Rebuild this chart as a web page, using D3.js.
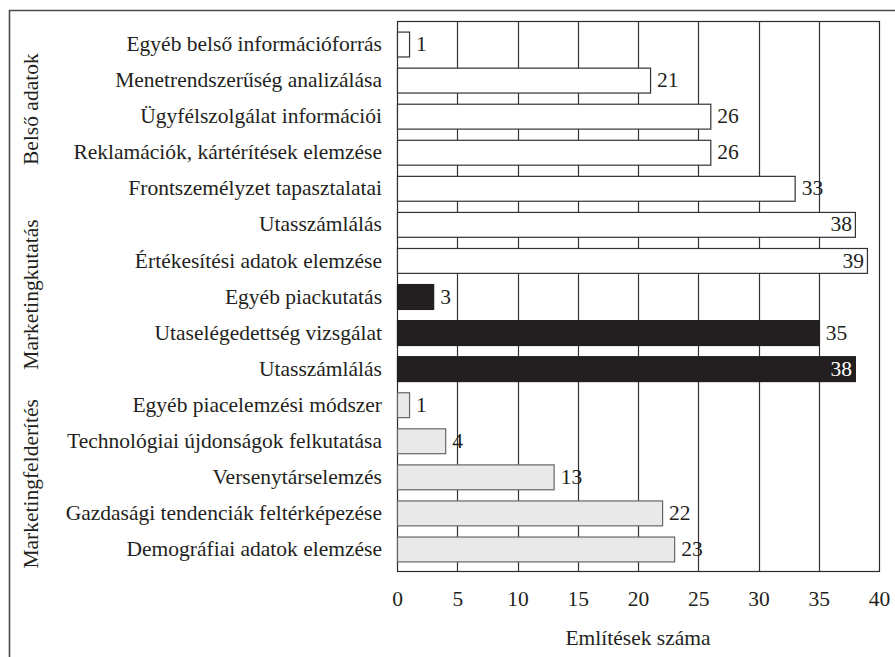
<!DOCTYPE html>
<html><head><meta charset="utf-8">
<script src="https://d3js.org/d3.v7.min.js"></script>
<style>
body{margin:0;background:#fff}
svg{display:block}
</style></head>
<body><svg id="c" width="895" height="657" font-family="'Liberation Serif', 'Times New Roman', Times, serif"></svg>
<script>
// ---- data ----
const categories = [
  "Egyéb belső információforrás",
  "Menetrendszerűség analizálása",
  "Ügyfélszolgálat információi",
  "Reklamációk, kártérítések elemzése",
  "Frontszemélyzet tapasztalatai",
  "Utasszámlálás",
  "Értékesítési adatok elemzése",
  "Egyéb piackutatás",
  "Utaselégedettség vizsgálat",
  "Utasszámlálás",
  "Egyéb piacelemzési módszer",
  "Technológiai újdonságok felkutatása",
  "Versenytárselemzés",
  "Gazdasági tendenciák feltérképezése",
  "Demográfiai adatok elemzése"
];
const values = [1, 21, 26, 26, 33, 38, 39, 3, 35, 38, 1, 4, 13, 22, 23];
const seriesOf = [0, 0, 0, 0, 0, 0, 0, 1, 1, 1, 2, 2, 2, 2, 2];
const groupNames = ["Belső adatok", "Marketingkutatás", "Marketingfelderítés"];
const groupFirst = [0, 5, 10];
const groupLast = [4, 9, 14];
const xTicks = [0, 5, 10, 15, 20, 25, 30, 35, 40];
const xTitle = "Említések száma";

// ---- styles ----
const fills = ["#ffffff", "#231f20", "#e9e9ea"];
const strokes = ["#333333", "#231f20", "#666666"];
const fontSize = 21.5;
const textColor = "#231f20";

const svg = d3.select("#c");
const plot = {left: 397, right: 879, top: 21, bottom: 571};

const x = d3.scaleLinear().domain([0, 40]).range([plot.left, plot.right]);
const idx = d3.range(categories.length);
const y = d3.scaleBand().domain(idx).range([26, 567]).paddingInner(0.31).paddingOuter(0.155);

// outer frame
svg.append("path")
  .attr("d", "M9.5,657 L9.5,10.5 L895,10.5")
  .attr("fill", "none").attr("stroke", "#4a4a4a").attr("stroke-width", 1.6);

// plot frame
svg.append("rect")
  .attr("x", plot.left + 0.5).attr("y", plot.top + 0.5)
  .attr("width", plot.right - plot.left).attr("height", plot.bottom - plot.top)
  .attr("fill", "none").attr("stroke", "#2a2a2a").attr("stroke-width", 1.2);

// gridlines
svg.append("g").selectAll("line").data(xTicks.slice(1, -1)).join("line")
  .attr("x1", d => Math.round(x(d)) + 0.5).attr("x2", d => Math.round(x(d)) + 0.5)
  .attr("y1", plot.top).attr("y2", plot.bottom)
  .attr("stroke", "#333").attr("stroke-width", 1.2);

// bars
svg.append("g").selectAll("rect").data(idx).join("rect")
  .attr("x", x(0) + 0.5)
  .attr("y", i => y(i) + 0.5)
  .attr("width", i => x(values[i]) - x(0))
  .attr("height", y.bandwidth())
  .attr("fill", i => fills[seriesOf[i]])
  .attr("stroke", i => strokes[seriesOf[i]])
  .attr("stroke-width", 1.2);

// value labels
svg.append("g").selectAll("text").data(idx).join("text")
  .attr("x", i => values[i] >= 36 ? x(values[i]) - 3 : x(values[i]) + 7)
  .attr("y", i => y(i) + y.bandwidth() / 2)
  .attr("dy", "0.33em")
  .attr("text-anchor", i => values[i] >= 36 ? "end" : "start")
  .attr("font-size", fontSize)
  .attr("fill", i => (values[i] >= 36 && seriesOf[i] === 1) ? "#ffffff" : textColor)
  .text(i => values[i]);

// category labels
svg.append("g").selectAll("text").data(idx).join("text")
  .attr("x", plot.left - 15)
  .attr("y", i => y(i) + y.bandwidth() / 2)
  .attr("dy", "0.33em")
  .attr("text-anchor", "end")
  .attr("font-size", fontSize)
  .attr("fill", textColor)
  .text(i => categories[i]);

// group labels
const groupOffset = [-7, -2, 7];
svg.append("g").selectAll("text").data(d3.range(groupNames.length)).join("text")
  .attr("transform", g => {
    const cy = (y(groupFirst[g]) + y(groupLast[g]) + y.bandwidth()) / 2 + groupOffset[g];
    return `translate(38,${cy}) rotate(-90)`;
  })
  .attr("text-anchor", "middle")
  .attr("font-size", fontSize)
  .attr("fill", textColor)
  .text(g => groupNames[g]);

// x axis
const axis = svg.append("g").attr("transform", `translate(0,${plot.bottom})`)
  .call(d3.axisBottom(x).tickValues(xTicks).tickSize(0).tickPadding(20));
axis.attr("font-family", null).attr("font-size", null);
axis.select(".domain").remove();
axis.selectAll("text").attr("font-size", fontSize).attr("fill", textColor);

svg.append("text")
  .attr("x", (plot.left + plot.right) / 2).attr("y", 645)
  .attr("text-anchor", "middle").attr("font-size", fontSize)
  .attr("fill", textColor)
  .text(xTitle);
</script></body></html>
